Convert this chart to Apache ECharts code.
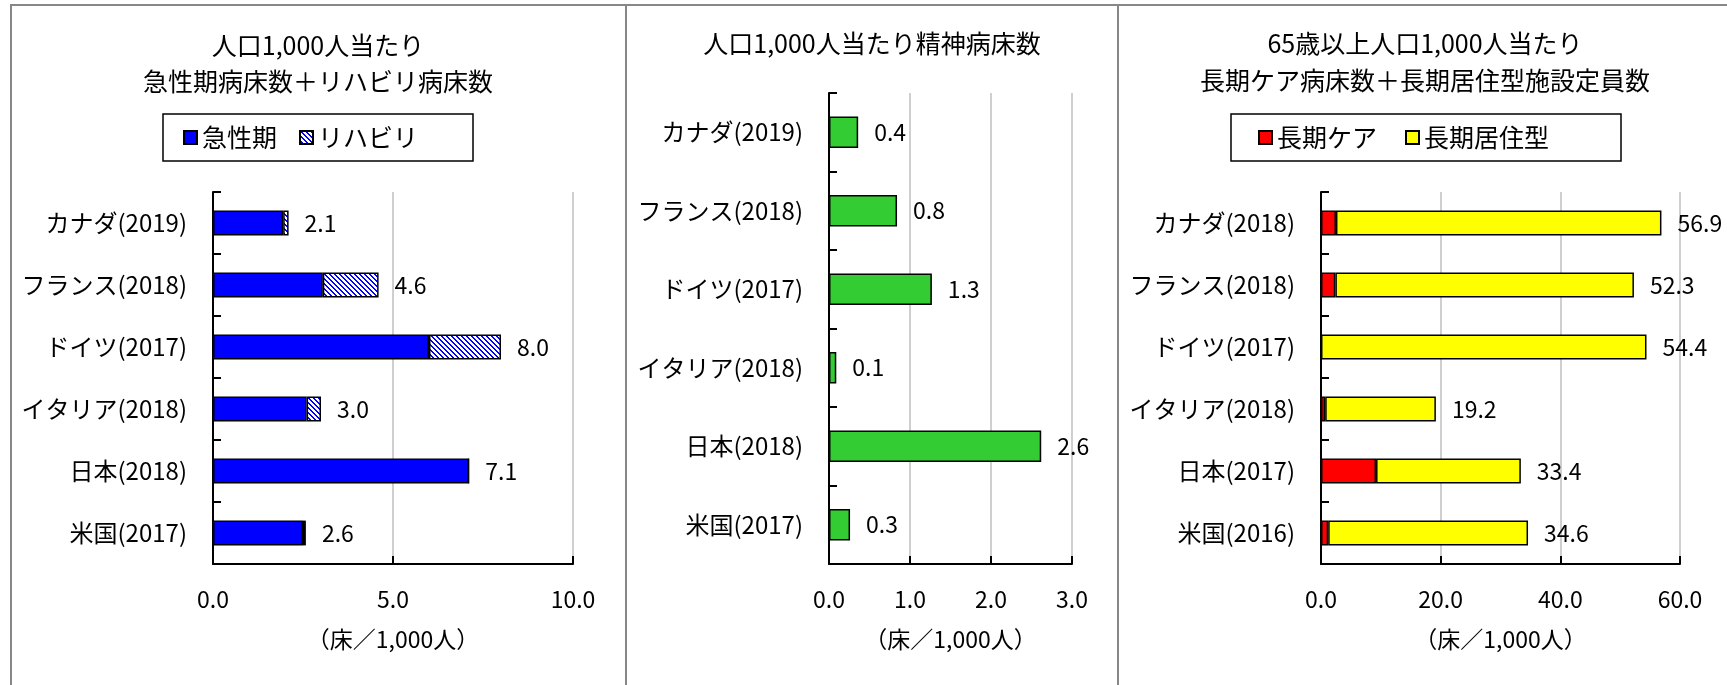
<!DOCTYPE html>
<html>
<head>
<meta charset="utf-8">
<script src="https://cdn.jsdelivr.net/npm/echarts@6/dist/echarts.min.js"></script>
<style>
html,body{margin:0;padding:0;background:#fff;}
#chart{width:1727px;height:685px;}
</style>
</head>
<body>
<div id="chart"></div>
<script>
// ---- data ----
const cats1 = ['カナダ(2019)', 'フランス(2018)', 'ドイツ(2017)', 'イタリア(2018)', '日本(2018)', '米国(2017)'];
const acute = [1.95, 3.05, 6.0, 2.6, 7.1, 2.5];
const rehab = [0.15, 1.55, 2.0, 0.4, 0, 0.08];
const total1 = [2.1, 4.6, 8.0, 3.0, 7.1, 2.6];

const cats2 = ['カナダ(2019)', 'フランス(2018)', 'ドイツ(2017)', 'イタリア(2018)', '日本(2018)', '米国(2017)'];
const psych = [0.36, 0.84, 1.27, 0.09, 2.62, 0.26];
const total2 = [0.4, 0.8, 1.3, 0.1, 2.6, 0.3];

const cats3 = ['カナダ(2018)', 'フランス(2018)', 'ドイツ(2017)', 'イタリア(2018)', '日本(2017)', '米国(2016)'];
const ltc = [2.5, 2.4, 0, 0.7, 9.2, 1.2];
const resid = [54.4, 49.9, 54.4, 18.5, 24.2, 33.4];
const total3 = [56.9, 52.3, 54.4, 19.2, 33.4, 34.6];

const titles = ['人口1,000人当たり\n急性期病床数＋リハビリ病床数', '人口1,000人当たり精神病床数', '65歳以上人口1,000人当たり\n長期ケア病床数＋長期居住型施設定員数'];
const unitName = '（床／1,000人）';

// ---- styles ----
const FONT = "'Noto Sans CJK JP', 'Noto Sans', sans-serif";
function hatch() {
  const c = document.createElement('canvas');
  c.width = 5; c.height = 5;
  const g = c.getContext('2d');
  g.fillStyle = '#ffffff'; g.fillRect(0, 0, 5, 5);
  g.fillStyle = '#0000ff';
  for (let i = 0; i < 5; i++) { g.fillRect(i, i, 1, 1); g.fillRect((i + 1) % 5, i, 1, 1); }
  return c;
}
const border = { borderColor: '#000', borderWidth: 1.5 };

function xAx(idx, max, interval) {
  return {
    gridIndex: idx, type: 'value', min: 0, max: max, interval: interval,
    name: unitName, nameLocation: 'middle', nameGap: 64,
    nameTextStyle: { fontSize: 23, color: '#000', fontFamily: FONT },
    axisLine: { show: true, lineStyle: { color: '#000', width: 2 } },
    axisTick: { show: true, inside: true, length: 8, lineStyle: { color: '#000', width: 2 } },
    axisLabel: { fontSize: 23, color: '#000', margin: 24, fontFamily: FONT, formatter: v => v.toFixed(1) },
    splitLine: { show: true, lineStyle: { color: '#bfbfbf', width: 1.5 } }
  };
}
function yAx(idx, cats) {
  return {
    gridIndex: idx, type: 'category', data: cats, inverse: true,
    axisLine: { show: true, lineStyle: { color: '#000', width: 2 } },
    axisTick: { show: true, inside: true, length: 8, lineStyle: { color: '#000', width: 2 } },
    axisLabel: { fontSize: 24, color: '#000', margin: 26, fontFamily: FONT },
    splitLine: { show: false }
  };
}
function valLabel(totals) {
  return { show: true, position: 'right', distance: 16, fontSize: 23, color: '#000', fontFamily: FONT,
    formatter: p => totals[p.dataIndex].toFixed(1) };
}
function ttl(text, x, top, lh) {
  return { text: text, left: x, top: top, textAlign: 'center', padding: 0,
    textStyle: { fontSize: 25, fontWeight: 'normal', color: '#000', lineHeight: lh, fontFamily: FONT } };
}
function lg(names, left, pad, gap) {
  return { data: names, left: left, top: 114, orient: 'horizontal', selectedMode: false,
    icon: 'rect', padding: pad, itemGap: gap, itemWidth: 13, itemHeight: 13,
    borderColor: '#000', borderWidth: 1.5, borderRadius: 0,
    textStyle: { fontSize: 25, color: '#000', fontFamily: FONT } };
}
const lineStyle = { stroke: '#878787', lineWidth: 2 };

const option = {
  animation: false,
  backgroundColor: '#fff',
  textStyle: { fontFamily: FONT },
  title: [ ttl(titles[0], 318, 27, 36), ttl(titles[1], 872, 25, 36), ttl(titles[2], 1425, 25, 37) ],
  legend: [ lg(['急性期', 'リハビリ'], 163, [11, 55, 11, 20], 22), lg(['長期ケア', '長期居住型'], 1231, [11, 72, 11, 27], 28) ],
  grid: [
    { left: 213, top: 192, width: 360, height: 372 },
    { left: 829, top: 93, width: 243, height: 471 },
    { left: 1321, top: 192, width: 359, height: 372 }
  ],
  xAxis: [ xAx(0, 10, 5), xAx(1, 3, 1), xAx(2, 60, 20) ],
  yAxis: [ yAx(0, cats1), yAx(1, cats2), yAx(2, cats3) ],
  series: [
    { type: 'bar', name: '急性期', xAxisIndex: 0, yAxisIndex: 0, stack: 'a', barWidth: '40%', data: acute,
      itemStyle: Object.assign({ color: '#0000ff' }, border) },
    { type: 'bar', name: 'リハビリ', xAxisIndex: 0, yAxisIndex: 0, stack: 'a', barWidth: '40%', data: rehab,
      itemStyle: Object.assign({ color: { image: hatch(), repeat: 'repeat' } }, border), label: valLabel(total1) },
    { type: 'bar', name: '精神病床', xAxisIndex: 1, yAxisIndex: 1, barWidth: '40%', data: psych,
      itemStyle: Object.assign({ color: '#33cc33' }, border), label: valLabel(total2) },
    { type: 'bar', name: '長期ケア', xAxisIndex: 2, yAxisIndex: 2, stack: 'b', barWidth: '40%', data: ltc,
      itemStyle: Object.assign({ color: '#ff0000' }, border) },
    { type: 'bar', name: '長期居住型', xAxisIndex: 2, yAxisIndex: 2, stack: 'b', barWidth: '40%', data: resid,
      itemStyle: Object.assign({ color: '#ffff00' }, border), label: valLabel(total3) }
  ],
  graphic: [
    { type: 'line', shape: { x1: 10, y1: 5, x2: 1727, y2: 5 }, style: lineStyle, silent: true },
    { type: 'line', shape: { x1: 11, y1: 5, x2: 11, y2: 685 }, style: lineStyle, silent: true },
    { type: 'line', shape: { x1: 626, y1: 5, x2: 626, y2: 685 }, style: lineStyle, silent: true },
    { type: 'line', shape: { x1: 1118, y1: 5, x2: 1118, y2: 685 }, style: lineStyle, silent: true }
  ]
};
const chart = echarts.init(document.getElementById('chart'), null, { renderer: 'canvas' });
chart.setOption(option);
</script>
</body>
</html>
